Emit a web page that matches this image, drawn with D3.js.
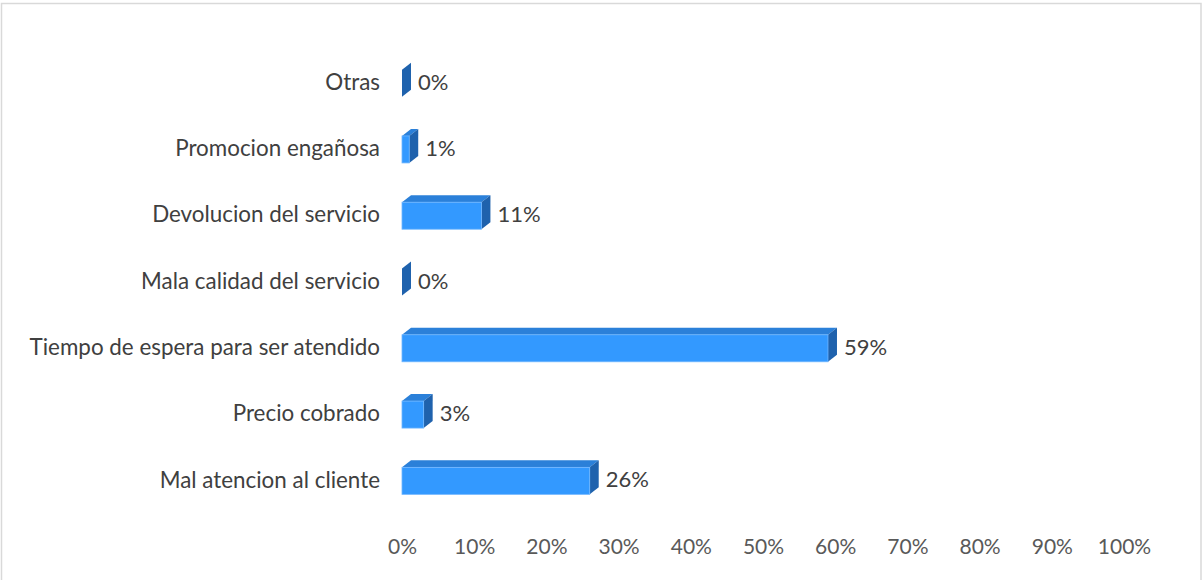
<!DOCTYPE html>
<html>
<head>
<meta charset="utf-8">
<script src="https://cdn.jsdelivr.net/npm/d3@7"></script>
<style>
  html, body { margin: 0; padding: 0; background: #fff; }
  svg { display: block; }
</style>
</head>
<body>
<svg id="chart" width="1204" height="580"></svg>
<script>
// Reasons for complaints, share of responses (%)
const categories = [
  "Otras",
  "Promocion engañosa",
  "Devolucion del servicio",
  "Mala calidad del servicio",
  "Tiempo de espera para ser atendido",
  "Precio cobrado",
  "Mal atencion al cliente"
];
const values = [0, 1, 11, 0, 59, 3, 26];
const tickValues = [0, 10, 20, 30, 40, 50, 60, 70, 80, 90, 100];

const svg = d3.select("#chart");
const W = 1204, H = 580;

// outer frame
svg.append("rect")
  .attr("x", 1.5).attr("y", 3.5)
  .attr("width", 1199.5).attr("height", H + 10)
  .attr("fill", "#fff").attr("stroke", "#d9d9d9").attr("stroke-width", 1.5);

const x = d3.scaleLinear().domain([0, 100]).range([402, 1124]);
const y = d3.scaleBand().domain(categories).range([51, 515]).paddingInner(0.6).paddingOuter(0.3);

// 3D extrusion offsets
const dx = 9, dy = 7;
const font = "Lato, 'Open Sans', sans-serif";
const fs = 22.4;

const colFront = "#3399ff", colTop = "#2b80d9", colSide = "#1f62ad";

const g = svg.append("g");
const bars = g.selectAll("g.bar").data(categories).join("g").attr("class", "bar");

bars.each(function(c, i) {
  const v = values[i];
  const sel = d3.select(this);
  const bh = 27;
  const cy = y(c) + y.bandwidth() / 2 - 1;
  const y0 = cy - bh / 2, y1 = cy + bh / 2;
  const x0 = x(0), x1 = x(v);
  // top face
  if (v > 0) {
    sel.append("path")
      .attr("d", `M${x0},${y0} L${x0 + dx},${y0 - dy} L${x1 + dx},${y0 - dy} L${x1},${y0} Z`)
      .attr("fill", colTop);
  }
  // side face
  sel.append("path")
    .attr("d", `M${x1},${y0} L${x1 + dx},${y0 - dy} L${x1 + dx},${y1 - dy} L${x1},${y1} Z`)
    .attr("fill", colSide);
  // front face
  if (v > 0) {
    sel.append("rect")
      .attr("x", x0).attr("y", y0)
      .attr("width", x1 - x0).attr("height", bh)
      .attr("fill", colFront)
      .attr("stroke", "#6fb6ff").attr("stroke-width", 0.8);
  }
  // value label
  sel.append("text")
    .attr("x", x1 + dx + 7)
    .attr("y", cy + 1)
    .attr("dominant-baseline", "middle")
    .attr("font-family", font).attr("font-size", 22)
    .attr("fill", "#404040")
    .text(v + "%");
});

// category labels
g.selectAll("text.cat").data(categories).join("text")
  .attr("class", "cat")
  .attr("x", 380)
  .attr("y", d => y(d) + y.bandwidth() / 2)
  .attr("text-anchor", "end")
  .attr("dominant-baseline", "middle")
  .attr("font-family", font).attr("font-size", fs)
  .attr("fill", "#404040")
  .text(d => d);

// x axis tick labels
const axis = d3.axisBottom(x).tickValues(tickValues).tickFormat(d => d + "%").tickSize(0).tickPadding(0);
const ax = svg.append("g").attr("transform", "translate(0,539)").call(axis);
ax.select(".domain").remove();
ax.selectAll("text")
  .attr("font-family", font).attr("font-size", 21)
  .attr("fill", "#595959");
</script>
</body>
</html>
